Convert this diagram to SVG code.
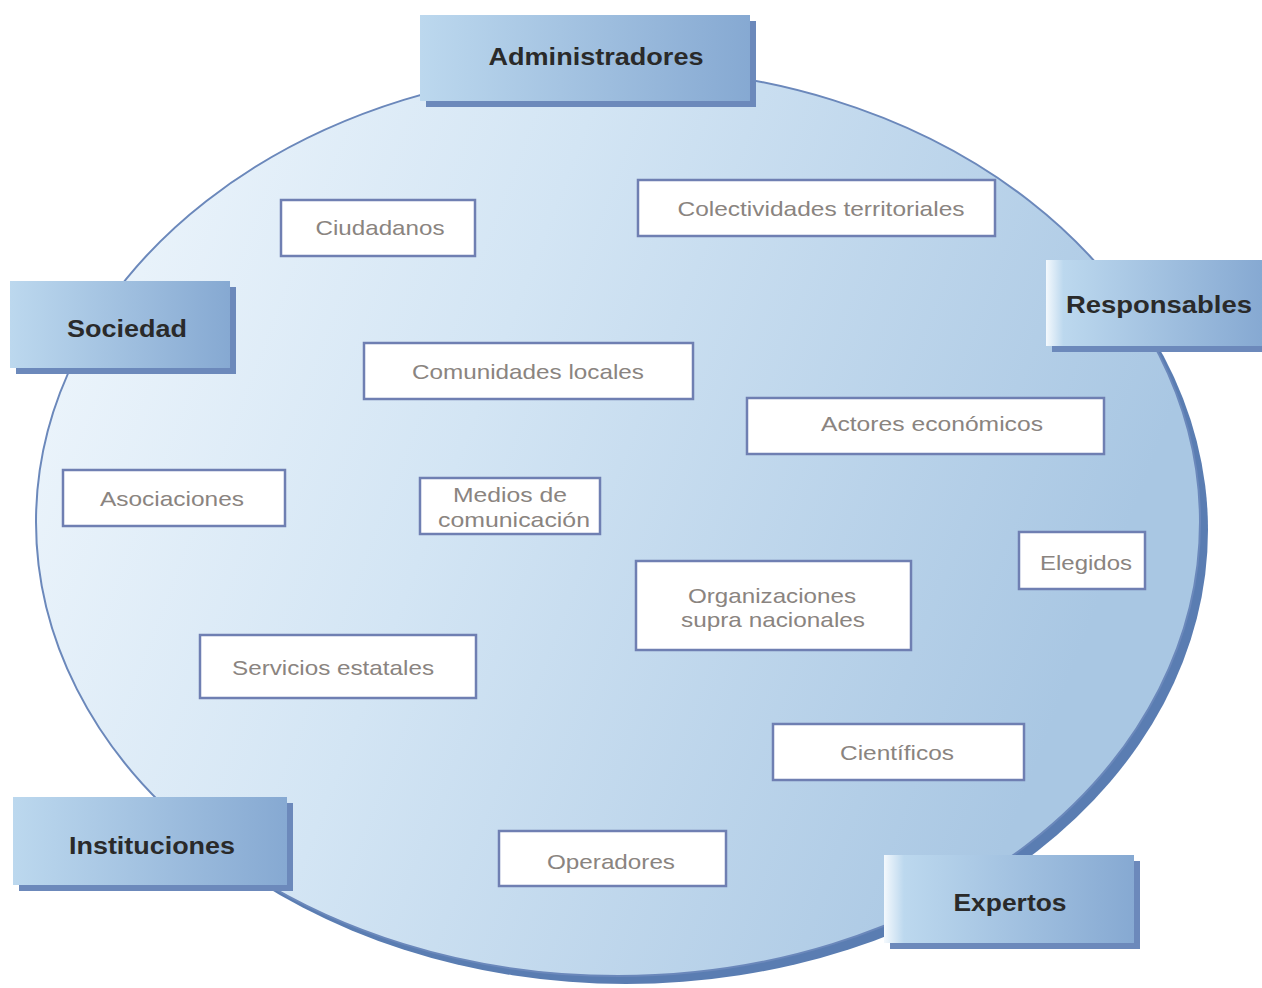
<svg xmlns="http://www.w3.org/2000/svg" width="1262" height="988" viewBox="0 0 1262 988">
  <defs>
    <linearGradient id="ovalFill" x1="0" y1="0" x2="1" y2="0.3">
      <stop offset="0" stop-color="#f2f8fd"/>
      <stop offset="0.45" stop-color="#d3e5f4"/>
      <stop offset="1" stop-color="#a9c7e3"/>
    </linearGradient>
    <linearGradient id="headFill" x1="0" y1="0" x2="1" y2="0">
      <stop offset="0" stop-color="#bcd8ee"/>
      <stop offset="1" stop-color="#86a9d2"/>
    </linearGradient>
    <linearGradient id="headFillEdge" x1="0" y1="0" x2="1" y2="0">
      <stop offset="0" stop-color="#f4f9fd"/>
      <stop offset="0.08" stop-color="#bcd8ee"/>
      <stop offset="1" stop-color="#86a9d2"/>
    </linearGradient>
    <style>
      .head-shadow { fill: #6c89bb; }
      .head { fill: url(#headFill); }
      .head-edge { fill: url(#headFillEdge); }
      .head-text { font-family: "Liberation Sans", Arial, sans-serif; font-size: 23px; font-weight: bold; fill: #2a2a2a; text-anchor: middle; }
      .box { fill: #ffffff; stroke: #6f7fb2; stroke-width: 2.5; }
      .box-text { font-family: "Liberation Sans", Arial, sans-serif; font-size: 21px; fill: #8a8480; text-anchor: middle; }
    </style>
  </defs>

  <!-- central oval with its drop shadow -->
  <g id="oval">
    <ellipse cx="626" cy="530" rx="582" ry="454" fill="#5a7db2"/>
    <ellipse cx="618" cy="522" rx="582" ry="454" fill="url(#ovalFill)" stroke="#6b88bb" stroke-width="2"/>
  </g>

  <!-- connectors: none drawn -->
  <g id="connectors"/>

  <!-- inner actor boxes -->
  <g id="ciudadanos">
    <rect class="box" x="281" y="200" width="194" height="56"/>
    <text class="box-text" x="380" y="235" textLength="129" lengthAdjust="spacingAndGlyphs">Ciudadanos</text>
  </g>
  <g id="colectividades">
    <rect class="box" x="638" y="180" width="357" height="56"/>
    <text class="box-text" x="821" y="216" textLength="287" lengthAdjust="spacingAndGlyphs">Colectividades territoriales</text>
  </g>
  <g id="comunidades">
    <rect class="box" x="364" y="343" width="329" height="56"/>
    <text class="box-text" x="528" y="379" textLength="232" lengthAdjust="spacingAndGlyphs">Comunidades locales</text>
  </g>
  <g id="actores">
    <rect class="box" x="747" y="398" width="357" height="56"/>
    <text class="box-text" x="932" y="431" textLength="222" lengthAdjust="spacingAndGlyphs">Actores económicos</text>
  </g>
  <g id="asociaciones">
    <rect class="box" x="63" y="470" width="222" height="56"/>
    <text class="box-text" x="172" y="506" textLength="144" lengthAdjust="spacingAndGlyphs">Asociaciones</text>
  </g>
  <g id="medios">
    <rect class="box" x="420" y="478" width="180" height="56"/>
    <text class="box-text" x="510" y="502" textLength="114" lengthAdjust="spacingAndGlyphs">Medios de</text>
    <text class="box-text" x="514" y="527" textLength="152" lengthAdjust="spacingAndGlyphs">comunicación</text>
  </g>
  <g id="elegidos">
    <rect class="box" x="1019" y="532" width="126" height="57"/>
    <text class="box-text" x="1086" y="570" textLength="92" lengthAdjust="spacingAndGlyphs">Elegidos</text>
  </g>
  <g id="organizaciones">
    <rect class="box" x="636" y="561" width="275" height="89"/>
    <text class="box-text" x="772" y="603" textLength="168" lengthAdjust="spacingAndGlyphs">Organizaciones</text>
    <text class="box-text" x="773" y="627" textLength="184" lengthAdjust="spacingAndGlyphs">supra nacionales</text>
  </g>
  <g id="servicios">
    <rect class="box" x="200" y="635" width="276" height="63"/>
    <text class="box-text" x="333" y="675" textLength="202" lengthAdjust="spacingAndGlyphs">Servicios estatales</text>
  </g>
  <g id="cientificos">
    <rect class="box" x="773" y="724" width="251" height="56"/>
    <text class="box-text" x="897" y="760" textLength="114" lengthAdjust="spacingAndGlyphs">Científicos</text>
  </g>
  <g id="operadores">
    <rect class="box" x="499" y="831" width="227" height="55"/>
    <text class="box-text" x="611" y="869" textLength="128" lengthAdjust="spacingAndGlyphs">Operadores</text>
  </g>

  <!-- group headers around the oval -->
  <g id="administradores">
    <rect class="head-shadow" x="426" y="21" width="330" height="86"/>
    <rect class="head" x="420" y="15" width="330" height="86"/>
    <text class="head-text" x="596" y="65" textLength="215" lengthAdjust="spacingAndGlyphs">Administradores</text>
  </g>
  <g id="sociedad">
    <rect class="head-shadow" x="16" y="287" width="220" height="87"/>
    <rect class="head" x="10" y="281" width="220" height="87"/>
    <text class="head-text" x="127" y="337" textLength="120" lengthAdjust="spacingAndGlyphs">Sociedad</text>
  </g>
  <g id="responsables">
    <rect class="head-shadow" x="1052" y="266" width="216" height="86"/>
    <rect class="head-edge" x="1046" y="260" width="216" height="86"/>
    <text class="head-text" x="1159" y="313" textLength="186" lengthAdjust="spacingAndGlyphs">Responsables</text>
  </g>
  <g id="instituciones">
    <rect class="head-shadow" x="19" y="803" width="274" height="88"/>
    <rect class="head" x="13" y="797" width="274" height="88"/>
    <text class="head-text" x="152" y="854" textLength="166" lengthAdjust="spacingAndGlyphs">Instituciones</text>
  </g>
  <g id="expertos">
    <rect class="head-shadow" x="890" y="861" width="250" height="88"/>
    <rect class="head-edge" x="884" y="855" width="250" height="88"/>
    <text class="head-text" x="1010" y="911" textLength="113" lengthAdjust="spacingAndGlyphs">Expertos</text>
  </g>
</svg>
